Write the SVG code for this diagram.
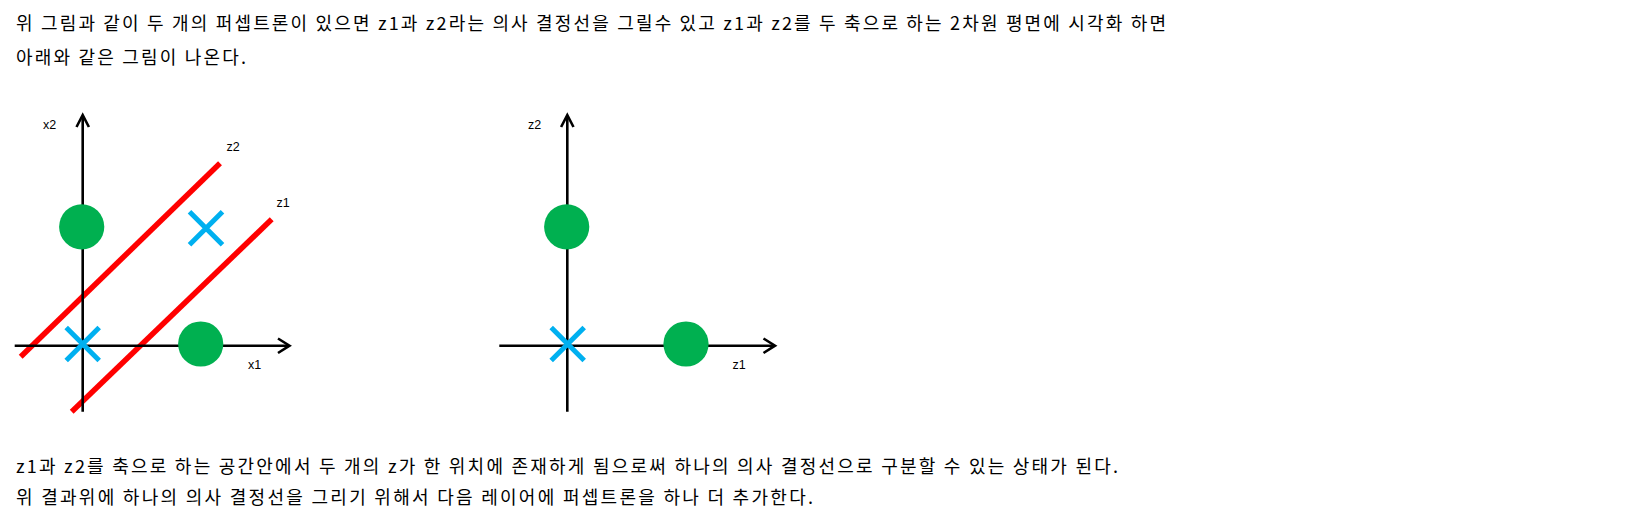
<svg xmlns="http://www.w3.org/2000/svg" width="1640" height="518" viewBox="0 0 1640 518">
<style>
.t{font-family:"Noto Sans CJK KR","Noto Sans",sans-serif;font-size:18px;fill:#000}
.l{font-family:"Liberation Sans",Arial,sans-serif;font-size:12.5px;fill:#000}
.ax{stroke:#000;stroke-width:2.6;fill:none}
.hd{stroke:#000;stroke-width:2.6;fill:none;stroke-linejoin:miter}
.red{stroke:#ff0000;stroke-width:5.5;fill:none}
.x{stroke:#00b0f0;stroke-width:5;fill:none}
.o{fill:#00b050}
</style>
<rect width="1640" height="518" fill="#fff"/>
<g id="text-top">
<text class="t" x="16" y="29.5" textLength="1150" lengthAdjust="spacing">위 그림과 같이 두 개의 퍼셉트론이 있으면 z1과 z2라는 의사 결정선을 그릴수 있고 z1과 z2를 두 축으로 하는 2차원 평면에 시각화 하면</text>
<text class="t" x="16" y="63.5" textLength="230" lengthAdjust="spacing">아래와 같은 그림이 나온다.</text>
</g>
<g id="plot-x">
<g id="decision-lines">
<line class="red" x1="20.7" y1="356.7" x2="220" y2="163.3"/>
<line class="red" x1="71.7" y1="411.7" x2="271.7" y2="219.3"/>
</g>
<g id="axes-x">
<line class="ax" x1="82.7" y1="411.7" x2="82.7" y2="116"/>
<polyline class="hd" points="76.5,127 82.7,115 88.9,127"/>
<line class="ax" x1="14.7" y1="345.7" x2="288" y2="345.7"/>
<polyline class="hd" points="278,338.5 289.5,345.7 278,353"/>
</g>
<g id="cross-x-1"><path class="x" d="M189.5,211.8 L222.5,244.8 M222.5,211.8 L189.5,244.8"/></g>
<g id="cross-x-2"><path class="x" d="M66.2,327.5 L99.2,360.5 M99.2,327.5 L66.2,360.5"/></g>
<g id="circle-x-1"><circle class="o" cx="81.7" cy="226.8" r="22.6"/></g>
<g id="circle-x-2"><circle class="o" cx="200.7" cy="344" r="22.6"/></g>
<text class="l" x="43" y="128.5">x2</text>
<text class="l" x="248" y="368.5">x1</text>
<text class="l" x="226.5" y="150.5">z2</text>
<text class="l" x="276.5" y="206.5">z1</text>
</g>
<g id="plot-z">
<g id="axes-z">
<line class="ax" x1="567.3" y1="411.7" x2="567.3" y2="116"/>
<polyline class="hd" points="561.1,127 567.3,115 573.5,127"/>
<line class="ax" x1="499.3" y1="345.7" x2="774" y2="345.7"/>
<polyline class="hd" points="763.5,338.5 775,345.7 763.5,353"/>
</g>
<g id="cross-z"><path class="x" d="M551.2,327.5 L584.2,360.5 M584.2,327.5 L551.2,360.5"/></g>
<g id="circle-z-1"><circle class="o" cx="566.7" cy="226.8" r="22.6"/></g>
<g id="circle-z-2"><circle class="o" cx="686" cy="344" r="22.6"/></g>
<text class="l" x="528" y="128.5">z2</text>
<text class="l" x="732.5" y="368.5">z1</text>
</g>
<g id="text-bottom">
<text class="t" x="16" y="472.5" textLength="1102" lengthAdjust="spacing">z1과 z2를 축으로 하는 공간안에서 두 개의 z가 한 위치에 존재하게 됨으로써 하나의 의사 결정선으로 구분할 수 있는 상태가 된다.</text>
<text class="t" x="16" y="503.5" textLength="797" lengthAdjust="spacing">위 결과위에 하나의 의사 결정선을 그리기 위해서 다음 레이어에 퍼셉트론을 하나 더 추가한다.</text>
</g>
</svg>
